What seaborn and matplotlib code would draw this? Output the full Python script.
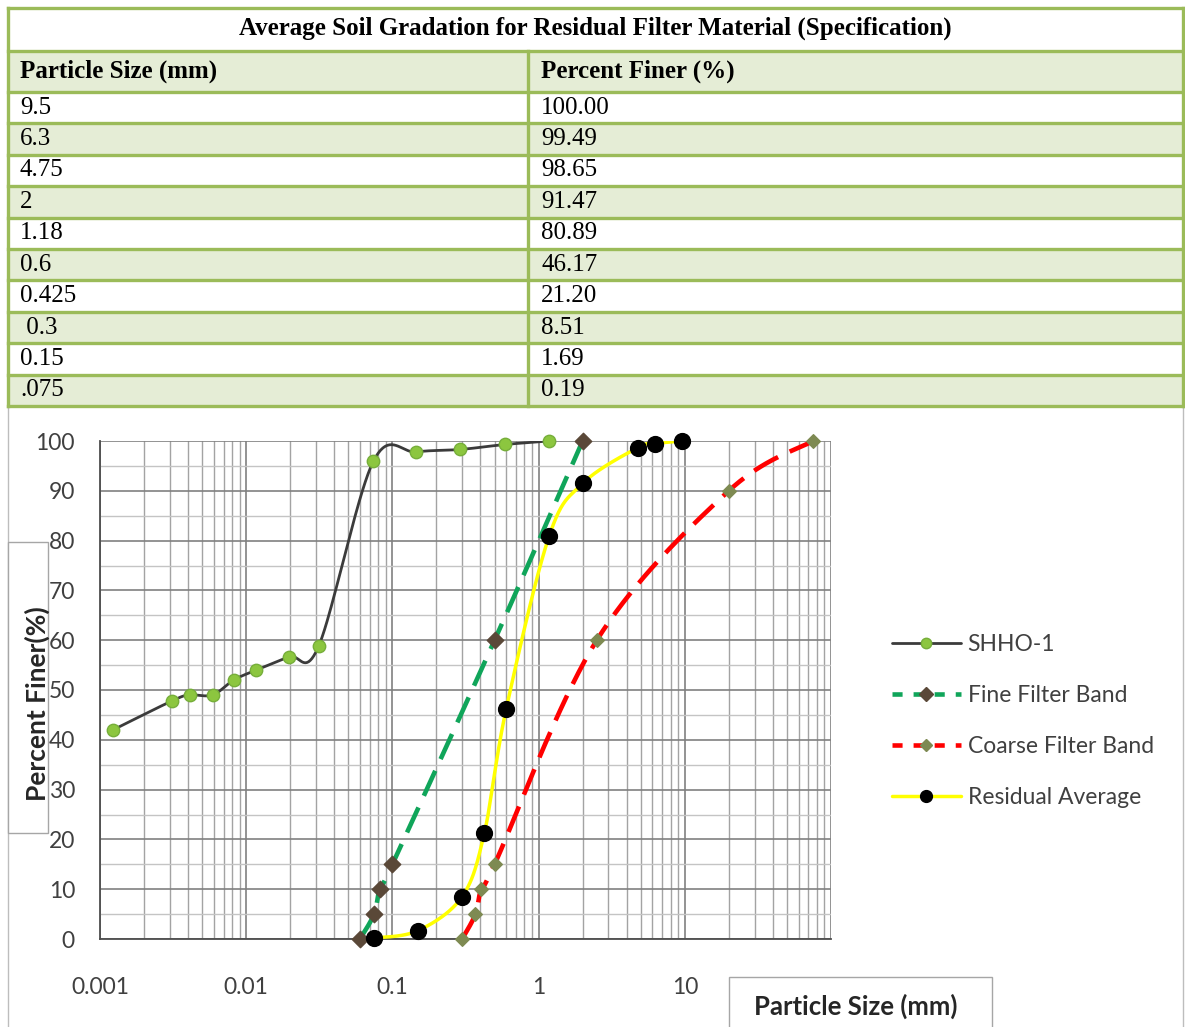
import numpy as np
import pandas as pd
import matplotlib
matplotlib.use("Agg")
import matplotlib.pyplot as plt
from matplotlib.lines import Line2D
from matplotlib.patches import Rectangle
from matplotlib.ticker import LogLocator, FixedLocator, NullFormatter
import seaborn as sns

# ---------------- data ----------------
table_title = "Average Soil Gradation for Residual Filter Material (Specification)"
table_headers = ["Particle Size (mm)", "Percent Finer (%)"]
table_size_labels = ["9.5", "6.3", "4.75", "2", "1.18", "0.6", "0.425", " 0.3", "0.15", ".075"]
table_pct_labels = ["100.00", "99.49", "98.65", "91.47", "80.89", "46.17", "21.20", "8.51", "1.69", "0.19"]

shho_size = [0.00123, 0.0031, 0.0041, 0.0059, 0.0082, 0.0117, 0.0197, 0.0313, 0.074, 0.146, 0.292, 0.59, 1.18]
shho_pct = [42.0, 47.8, 49.0, 49.0, 52.0, 54.0, 56.7, 58.8, 95.9, 97.8, 98.3, 99.3, 100.0]

fine_size = [0.06, 0.075, 0.082, 0.1, 0.5, 2.0]
fine_pct = [0, 5, 10, 15, 60, 100]

coarse_size = [0.3, 0.37, 0.405, 0.5, 2.5, 20, 75]
coarse_pct = [0, 5, 10, 15, 60, 90, 100]

resid_size = [9.5, 6.3, 4.75, 2, 1.18, 0.6, 0.425, 0.3, 0.15, 0.075]
resid_pct = [100.00, 99.49, 98.65, 91.47, 80.89, 46.17, 21.20, 8.51, 1.69, 0.19]

series_names = ["SHHO-1", "Fine Filter Band", "Coarse Filter Band", "Residual Average"]
x_tick_vals = [0.001, 0.01, 0.1, 1, 10, 100]
x_tick_labels = ["0.001", "0.01", "0.1", "1", "10", ""]
y_tick_vals = list(range(0, 101, 10))
x_label = "Particle Size (mm)"
y_label = "Percent Finer(%)"

# ---------------- style ----------------
sns.set_style("white")
plt.rcParams["font.family"] = ["Lato", "DejaVu Sans"]
SERIF = ["Liberation Serif", "DejaVu Serif"]

W, H = 1185, 1027
fig = plt.figure(figsize=(W / 100, H / 100), dpi=100)

# background / pixel-coordinate layer for table and boxes
bg = fig.add_axes([0, 0, 1, 1], zorder=0)
bg.set_xlim(0, W)
bg.set_ylim(H, 0)
bg.axis("off")

BORDER = "#9BBB59"
FILL = "#E5EDD6"

# chart area outer border
bg.add_patch(Rectangle((8, 406), 1175, 640, fill=False, edgecolor="#BDBDBD", lw=1.0))

# table
x0, x1, xmid = 8, 1183, 528
title_top, header_top, data_top, row_h = 8, 51, 92, 31.4
n = len(table_size_labels)
table_bottom = data_top + n * row_h
bg.add_patch(Rectangle((x0, header_top), x1 - x0, data_top - header_top, facecolor=FILL, edgecolor="none"))
for i in range(n):
    if i % 2 == 1:
        bg.add_patch(Rectangle((x0, data_top + i * row_h), x1 - x0, row_h, facecolor=FILL, edgecolor="none"))
hlines = [title_top, header_top, data_top] + [data_top + (i + 1) * row_h for i in range(n)]
for yy in hlines:
    bg.plot([x0, x1], [yy, yy], color=BORDER, lw=2.4, solid_capstyle="projecting")
for xx, ya in [(x0, title_top), (x1, title_top), (xmid, header_top)]:
    bg.plot([xx, xx], [ya, table_bottom], color=BORDER, lw=2.4, solid_capstyle="projecting")

bg.text((x0 + x1) / 2, (title_top + header_top) / 2 - 1, table_title, ha="center", va="center",
        fontsize=18, fontweight="bold", family=SERIF, color="black")
bg.text(20, (header_top + data_top) / 2, table_headers[0], ha="left", va="center",
        fontsize=18, fontweight="bold", family=SERIF, color="black")
bg.text(541, (header_top + data_top) / 2, table_headers[1], ha="left", va="center",
        fontsize=18, fontweight="bold", family=SERIF, color="black")
for i in range(n):
    yc = data_top + (i + 0.5) * row_h
    bg.text(20, yc, table_size_labels[i], ha="left", va="center", fontsize=18, family=SERIF, color="black")
    bg.text(541, yc, table_pct_labels[i], ha="left", va="center", fontsize=18, family=SERIF, color="black")

# y-label box
bg.add_patch(Rectangle((8, 542), 40, 291, facecolor="white", edgecolor="#A6A6A6", lw=1.0))
bg.text(37, 704, y_label, rotation=90, ha="center", va="center", fontsize=19, fontweight="bold",
        color="#262626")
# x-label box
bg.add_patch(Rectangle((729, 977), 263, 60, facecolor="white", edgecolor="#A6A6A6", lw=1.0))
bg.text(856, 1006, x_label, ha="center", va="center", fontsize=18.5, fontweight="bold", color="#262626")

# ---------------- main chart ----------------
L, R, T, B = 100, 831, 441, 939
ax = fig.add_axes([L / W, 1 - B / H, (R - L) / W, (B - T) / H], zorder=1)
ax.set_facecolor("none")
ax.set_xscale("log")
ax.set_xlim(0.001, 100)
ax.set_ylim(0, 100)


def excel_smooth(xs, ys, per=40):
    u = np.log10(np.asarray(xs, float))
    v = np.asarray(ys, float)
    P = np.column_stack([u, v])
    Pe = np.vstack([P[0], P, P[-1]])
    segs = []
    t = np.linspace(0, 1, per)[:, None]
    for i in range(len(P) - 1):
        p0, p1, p2, p3 = Pe[i], Pe[i + 1], Pe[i + 2], Pe[i + 3]
        c1 = p1 + (p2 - p0) / 6.0
        c2 = p2 - (p3 - p1) / 6.0
        seg = (1 - t) ** 3 * p1 + 3 * (1 - t) ** 2 * t * c1 + 3 * (1 - t) * t ** 2 * c2 + t ** 3 * p2
        segs.append(seg if i == 0 else seg[1:])
    S = np.vstack(segs)
    return pd.DataFrame({"x": 10 ** S[:, 0], "y": S[:, 1]})


SH_LINE, SH_FILL, SH_EDGE = "#3B3B3B", "#8CC63F", "#76AE3A"
FI_LINE, FI_MARK = "#10A55A", "#5A4838"
CO_LINE, CO_MARK = "#FF0000", "#7E8A52"
RE_LINE, RE_MARK = "#FFFF00", "#000000"
FI_DASH = (0, (6.0, 2.8))
CO_DASH = (0, (6.0, 2.8))

series = [
    (shho_size, shho_pct, SH_LINE, 2.0, "-", "o", 80, SH_FILL, SH_EDGE),
    (fine_size, fine_pct, FI_LINE, 3.3, FI_DASH, "D", 70, FI_MARK, FI_MARK),
    (coarse_size, coarse_pct, CO_LINE, 3.3, CO_DASH, "D", 48, CO_MARK, CO_MARK),
    (resid_size, resid_pct, RE_LINE, 2.5, "-", "o", 130, RE_MARK, RE_MARK),
]
z = 3
for xs, ys, lc, lw, ls, mk, ms, mf, me in series:
    sm = excel_smooth(xs, ys)
    sns.lineplot(data=sm, x="x", y="y", ax=ax, color=lc, lw=lw, linestyle=ls, sort=False,
                 estimator=None, errorbar=None, legend=False, zorder=z)
    pts = pd.DataFrame({"x": xs, "y": ys})
    sns.scatterplot(data=pts, x="x", y="y", ax=ax, marker=mk, s=ms, color=mf, edgecolor=me,
                    linewidth=1.0, legend=False, zorder=z + 1, clip_on=False)
    z += 2

# axes styling
ax.xaxis.set_major_locator(FixedLocator(x_tick_vals))
ax.set_xticklabels(x_tick_labels)
ax.xaxis.set_minor_locator(LogLocator(base=10, subs=np.arange(2, 10)))
ax.xaxis.set_minor_formatter(NullFormatter())
ax.set_yticks(y_tick_vals)
ax.set_yticks(list(range(5, 100, 10)), minor=True)
ax.grid(which="major", axis="both", color="#808080", lw=1.2, zorder=0)
ax.grid(which="minor", axis="x", color="#A3A3A3", lw=1.0, zorder=0)
ax.grid(which="minor", axis="y", color="#C4C4C4", lw=1.0, zorder=0)
ax.set_axisbelow(True)
for s in ["top", "right"]:
    ax.spines[s].set_visible(False)
for s in ["left", "bottom"]:
    ax.spines[s].set_color("#4D4D4D")
    ax.spines[s].set_linewidth(1.3)
ax.tick_params(axis="both", which="major", direction="out", length=7, width=1.2, color="#4D4D4D",
               labelsize=16.5, labelcolor="#404040")
ax.tick_params(axis="x", which="major", pad=20)
ax.tick_params(axis="y", which="major", pad=11)
ax.tick_params(axis="both", which="minor", length=0)
ax.set_xlabel("")
ax.set_ylabel("")

# legend
handles = [
    Line2D([], [], color=SH_LINE, lw=2.0, marker="o", ms=7.5, mfc=SH_FILL, mec=SH_EDGE),
    Line2D([], [], color=FI_LINE, lw=3.3, ls=(0, (2.2, 2.4)), marker="D", ms=7, mfc=FI_MARK, mec=FI_MARK),
    Line2D([], [], color=CO_LINE, lw=3.3, ls=(0, (2.2, 2.4)), marker="D", ms=6, mfc=CO_MARK, mec=CO_MARK),
    Line2D([], [], color=RE_LINE, lw=2.5, marker="o", ms=8.5, mfc=RE_MARK, mec=RE_MARK),
]
leg = ax.legend(handles, series_names, loc="center left", bbox_to_anchor=(892 / W, 1 - 721 / H),
                bbox_transform=fig.transFigure, frameon=False, fontsize=16.5, handlelength=3.0,
                handletextpad=0.3, labelspacing=1.3, borderpad=0, borderaxespad=0)
for txt in leg.get_texts():
    txt.set_color("#404040")

fig.savefig("out.png", dpi=100)
